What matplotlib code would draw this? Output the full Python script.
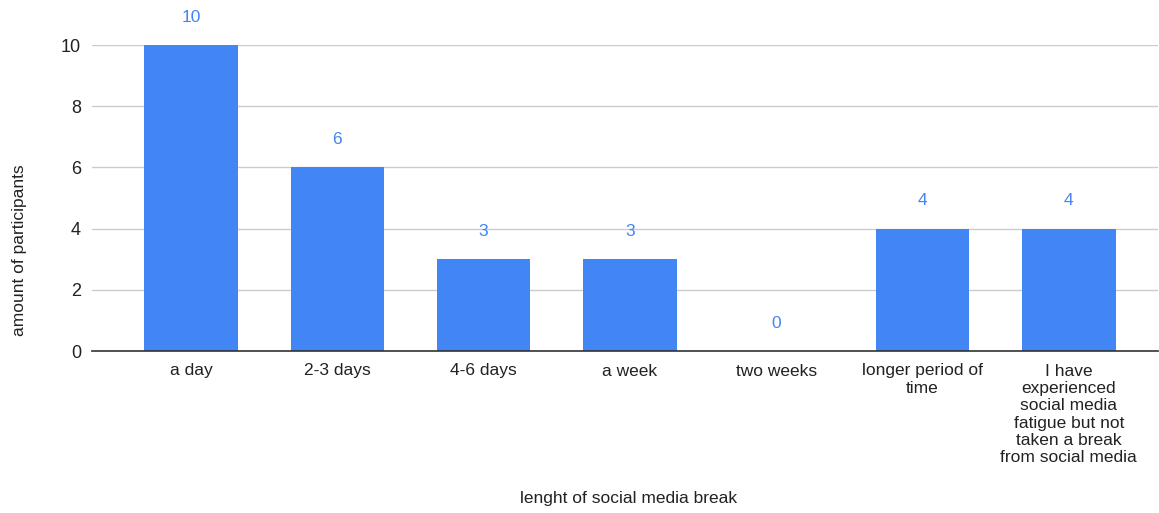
import matplotlib.pyplot as plt

categories = ['a day', '2-3 days', '4-6 days', 'a week', 'two weeks',
              'longer period of\ntime',
              'I have\nexperienced\nsocial media\nfatigue but not\ntaken a break\nfrom social media']
participants = [10, 6, 3, 3, 0, 4, 4]
y_ticks = [0, 2, 4, 6, 8, 10]

plt.rcParams['font.family'] = ['Liberation Sans', 'DejaVu Sans']

fig = plt.figure(figsize=(11.59, 5.13), dpi=100)
ax = fig.add_axes([92 / 1159, 162 / 513, 1066 / 1159, 306 / 513])

x = list(range(len(categories)))
bars = ax.bar(x, participants, width=0.64, color='#4285f4', zorder=2)

for xi, val in zip(x, participants):
    ax.annotate(str(val), (xi, val), xytext=(0, 20), textcoords='offset points',
                ha='center', va='center', color='#4285f4', fontsize=12.5,
                annotation_clip=False)

ax.set_xlim(-0.677, 6.61)
ax.set_ylim(0, 10)
ax.set_yticks(y_ticks)
ax.set_xticks(x)
ax.set_xticklabels(categories, fontsize=12.5, linespacing=1.2, va='top')
ax.tick_params(axis='y', labelsize=13, length=0, pad=8, colors='#222222')
ax.tick_params(axis='x', length=0, pad=9, colors='#222222')

ax.grid(axis='y', color='#cccccc', linewidth=1, zorder=0)
for side in ['top', 'right', 'left']:
    ax.spines[side].set_visible(False)
ax.spines['bottom'].set_color('#333333')
ax.spines['bottom'].set_linewidth(1.2)
ax.spines['bottom'].set_zorder(3)

fig.text(629 / 1159, 1 - 499 / 513, 'lenght of social media break',
         ha='center', va='center', fontsize=12.5, color='#222222')
fig.text(20 / 1159, 1 - 250 / 513, 'amount of participants', rotation=90,
         ha='center', va='center', fontsize=12.5, color='#222222')

fig.savefig('out.png', dpi=100)
